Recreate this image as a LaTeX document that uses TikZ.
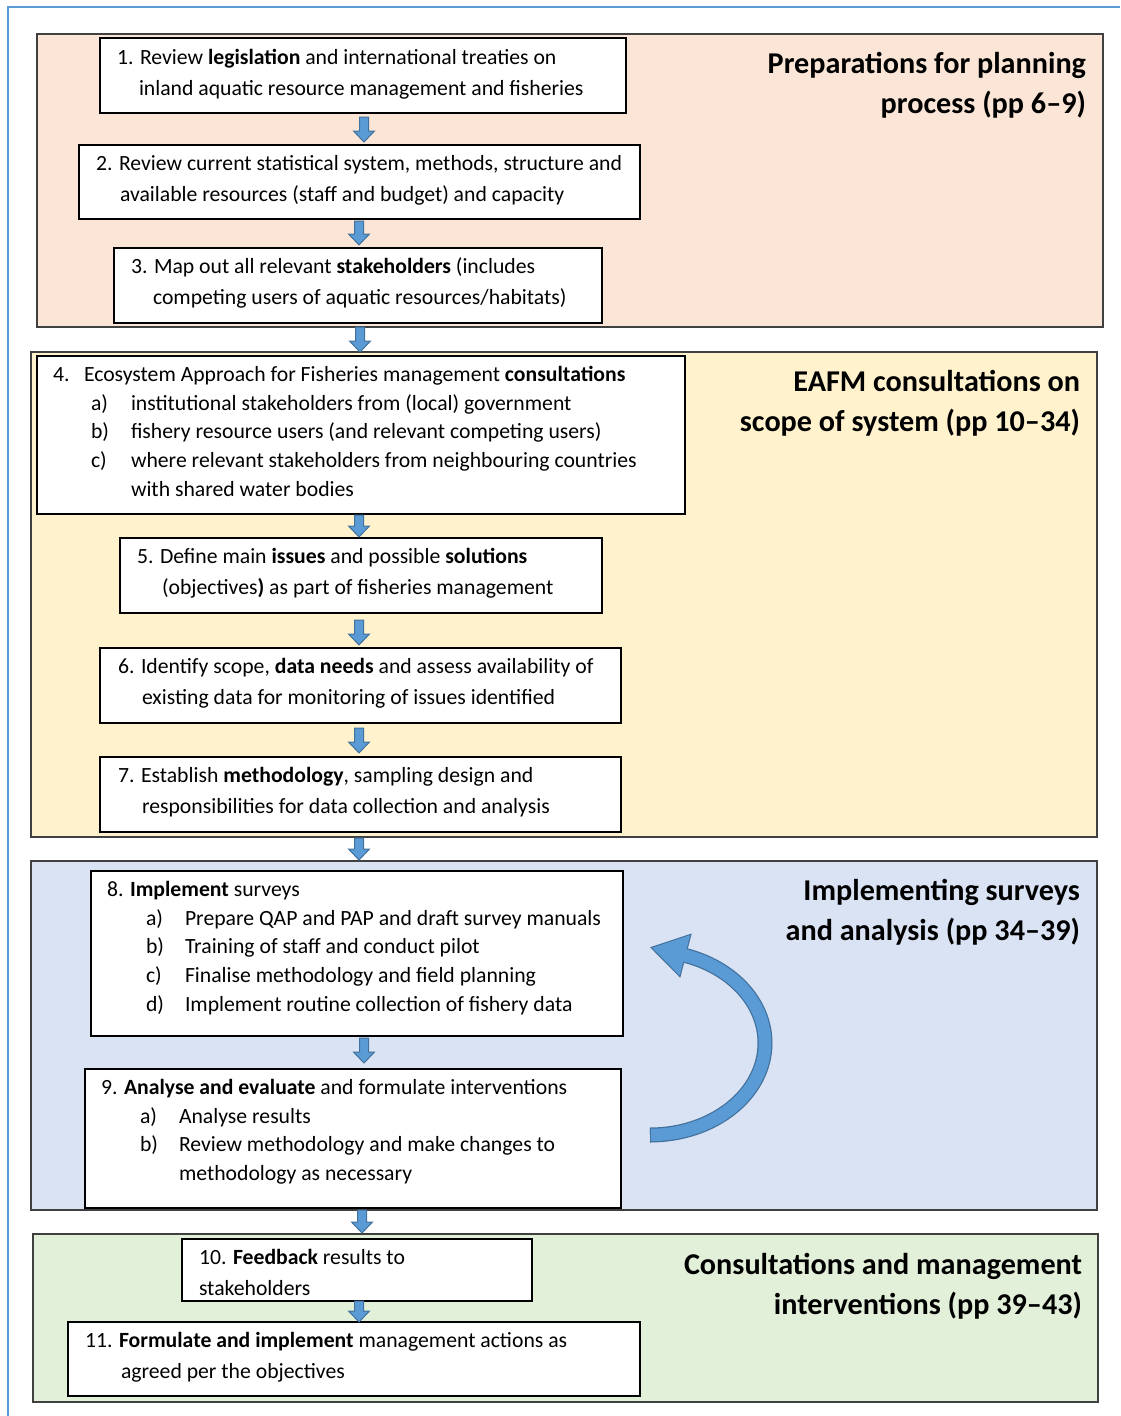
\documentclass[tikz,border=0pt]{standalone}
\usepackage{fontspec}
\usetikzlibrary{calc}
\setmainfont{Carlito}
\newcommand\bodyfont{\fontsize{21.7}{26}\selectfont}
\newcommand\ttlfont{\fontsize{30.2}{36}\selectfont\bfseries}
\definecolor{peach}{HTML}{FBE5D6}
\definecolor{yell}{HTML}{FFF2CC}
\definecolor{bluebg}{HTML}{DAE3F3}
\definecolor{greenbg}{HTML}{E2F0D9}
\definecolor{secline}{HTML}{404040}
\definecolor{arrfill}{HTML}{5B9BD5}
\definecolor{arredge}{HTML}{41719C}
\definecolor{framecol}{HTML}{5B9BD5}
\tikzset{
  sect/.style={draw=secline, line width=1.3pt, inner sep=0pt, outer sep=0pt},
  stepbox/.style={draw=black, line width=1.2pt, fill=white, inner sep=0pt, outer sep=0pt},
  txt/.style={anchor=base west, inner sep=0pt, outer sep=0pt, font=\bodyfont},
  ttl/.style={anchor=base east, inner sep=0pt, outer sep=0pt, font=\ttlfont},
  barrow/.style={fill=arrfill, draw=arredge, line width=1pt, line join=miter},
}
\newcommand\barrow[5]{%
  \path[barrow] let \p1=(#2.south), \p2=(#3.north) in
   ({#1pt-4.5pt},{\y1-#4pt}) -- ({#1pt+4.5pt},{\y1-#4pt}) --
   ({#1pt+4.5pt},{\y2+#5pt+11pt}) -- ({#1pt+10.5pt},{\y2+#5pt+11pt}) --
   ({#1pt},{\y2+#5pt}) -- ({#1pt-10.5pt},{\y2+#5pt+11pt}) --
   ({#1pt-4.5pt},{\y2+#5pt+11pt}) -- cycle;}
\begin{document}
\begin{tikzpicture}[x=1pt,y=-1pt]
\useasboundingbox (0,0) rectangle (1120,1416);
\fill[white] (0,0) rectangle (1120,1416);
% outer frame
\draw[framecol, line width=1.5pt] (8,1416) -- (8,7) -- (1120,7);

% sections
\node[sect, fill=peach, minimum width=1066pt, minimum height=293pt] (s1) at (570,180.5) {};
\node[sect, fill=yell, minimum width=1066pt, minimum height=485pt] (s2) at (564,594.5) {};
\node[sect, fill=bluebg, minimum width=1066pt, minimum height=349pt] (s3) at (564,1035.5) {};
\node[sect, fill=greenbg, minimum width=1065pt, minimum height=168pt] (s4) at (565.5,1318) {};

% section titles
\node[ttl] (h1a) at (1086,73) {Preparations for planning};
\node[ttl] (h1b) at (1086,113) {process (pp 6--9)};
\node[ttl] (h2a) at (1080,391) {EAFM consultations on};
\node[ttl] (h2b) at (1080,431) {scope of system (pp 10--34)};
\node[ttl] (h3a) at (1080,900) {Implementing surveys};
\node[ttl] (h3b) at (1080,940) {and analysis (pp 34--39)};
\node[ttl] (h4a) at (1082,1274) {Consultations and management};
\node[ttl] (h4b) at (1082,1314) {interventions (pp 39--43)};

% step boxes
\node[stepbox, minimum width=526pt, minimum height=75pt] (b1) at (363,75.5) {};
\node[stepbox, minimum width=561pt, minimum height=74pt] (b2) at (359.5,182) {};
\node[stepbox, minimum width=488pt, minimum height=75pt] (b3) at (358,285.5) {};
\node[stepbox, minimum width=648pt, minimum height=158pt] (b4) at (361,435) {};
\node[stepbox, minimum width=482pt, minimum height=75pt] (b5) at (361,575.5) {};
\node[stepbox, minimum width=521pt, minimum height=75pt] (b6) at (360.5,685.5) {};
\node[stepbox, minimum width=521pt, minimum height=75pt] (b7) at (360.5,794.5) {};
\node[stepbox, minimum width=532pt, minimum height=165pt] (b8) at (357,953.5) {};
\node[stepbox, minimum width=536pt, minimum height=139pt] (b9) at (353,1138.5) {};
\node[stepbox, minimum width=350pt, minimum height=62pt] (b10) at (357,1270) {};
\node[stepbox, minimum width=572pt, minimum height=74pt] (b11) at (354,1359) {};

% texts
\node[txt] (t1a) at (117,64.5) {1. Review \textbf{legislation} and international treaties on};
\node[txt] (t1b) at (139,95.5) {inland aquatic resource management and fisheries};
\node[txt] (t2a) at (96,170.5) {2. Review current statistical system, methods, structure and};
\node[txt] (t2b) at (120,201.5) {available resources (staff and budget) and capacity};
\node[txt] (t3a) at (131,273.5) {3. Map out all relevant \textbf{stakeholders} (includes};
\node[txt] (t3b) at (153,304.5) {competing users of aquatic resources/habitats)};

\node[txt] (t4n) at (53,381.5) {4.};
\node[txt] (t4) at (84,381.5) {Ecosystem Approach for Fisheries management \textbf{consultations}};
\node[txt] (t4al) at (91,410.5) {a)};
\node[txt] (t4a) at (131,410.5) {institutional stakeholders from (local) government};
\node[txt] (t4bl) at (91,438.5) {b)};
\node[txt] (t4b) at (131,438.5) {fishery resource users (and relevant competing users)};
\node[txt] (t4cl) at (91,467.5) {c)};
\node[txt] (t4c) at (131,467.5) {where relevant stakeholders from neighbouring countries};
\node[txt] (t4d) at (131,496.5) {with shared water bodies};

\node[txt] (t5a) at (137,563.5) {5. Define main \textbf{issues} and possible \textbf{solutions}};
\node[txt] (t5b) at (162,594.5) {(objectives\textbf{)} as part of fisheries management};
\node[txt] (t6a) at (118,673.5) {6. Identify scope, \textbf{data needs} and assess availability of};
\node[txt] (t6b) at (142,704.5) {existing data for monitoring of issues identified};
\node[txt] (t7a) at (118,782.5) {7. Establish \textbf{methodology}, sampling design and};
\node[txt] (t7b) at (142,813.5) {responsibilities for data collection and analysis};

\node[txt] (t8) at (107,896.5) {8. \textbf{Implement} surveys};
\node[txt] (t8al) at (146,925.5) {a)};
\node[txt] (t8a) at (185,925.5) {Prepare QAP and PAP and draft survey manuals};
\node[txt] (t8bl) at (146,953.5) {b)};
\node[txt] (t8b) at (185,953.5) {Training of staff and conduct pilot};
\node[txt] (t8cl) at (146,982.5) {c)};
\node[txt] (t8c) at (185,982.5) {Finalise methodology and field planning};
\node[txt] (t8dl) at (146,1011.5) {d)};
\node[txt] (t8d) at (185,1011.5) {Implement routine collection of fishery data};

\node[txt] (t9) at (101,1094.5) {9. \textbf{Analyse and evaluate} and formulate interventions};
\node[txt] (t9al) at (140,1123.5) {a)};
\node[txt] (t9a) at (179,1123.5) {Analyse results};
\node[txt] (t9bl) at (140,1151.5) {b)};
\node[txt] (t9b) at (179,1151.5) {Review methodology and make changes to};
\node[txt] (t9c) at (179,1180.5) {methodology as necessary};

\node[txt] (t10a) at (199,1264.5) {10. \textbf{Feedback} results to};
\node[txt] (t10b) at (199,1295.5) {stakeholders};
\node[txt] (t11a) at (85,1347.5) {11. \textbf{Formulate and implement} management actions as};
\node[txt] (t11b) at (121,1378.5) {agreed per the objectives};

% block arrows
\barrow{364}{b1}{b2}{4}{3}
\barrow{359}{b2}{b3}{2}{3}
\barrow{360}{b3}{s2}{4}{0}
\barrow{359}{b4}{b5}{1}{1}
\barrow{359}{b5}{b6}{7}{3}
\barrow{359}{b6}{b7}{5}{4}
\barrow{359}{b7}{s3}{6}{1}
\barrow{364}{b8}{b9}{2}{6}
\barrow{362}{b9}{s4}{2}{1}
\barrow{359}{b10}{b11}{0}{0}

% curved feedback arrow
\coordinate (cstart) at (650,1135);
\coordinate (cend) at (685.5,955.5);
\draw[arredge, line width=15pt] (cstart) arc[start angle=90, end angle=-72, x radius=115, y radius=92];
\path[barrow] (cend) ++(5.5,-21.3) -- (651,947.5) -- ($(cend)+(-5.5,21.3)$) -- cycle;
\draw[arrfill, line width=12.5pt] (cstart) arc[start angle=90, end angle=-72, x radius=115, y radius=92] -- ++(-2.9,-0.75);
\draw[arredge, line width=1pt] (650,1127.5) -- (650,1142.5);
\end{tikzpicture}
\end{document}
